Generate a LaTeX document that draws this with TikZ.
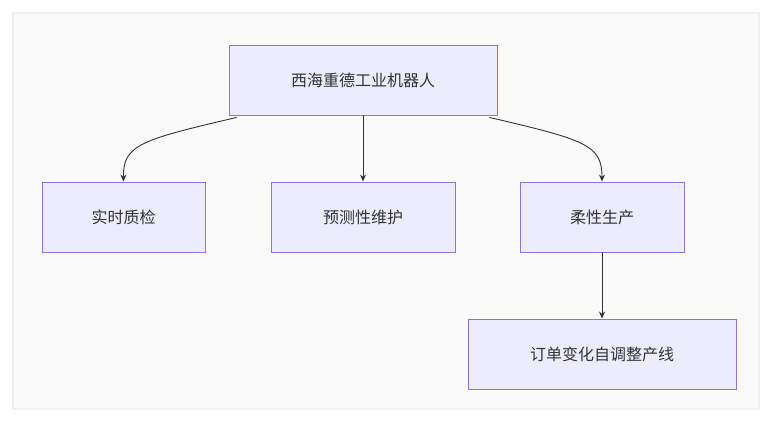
\documentclass[tikz,border=0pt]{standalone}
\usepackage{fontspec}
\newfontfamily\cjk{Noto Sans CJK SC}
\usetikzlibrary{arrows.meta}
\begin{document}
\begin{tikzpicture}[x=1pt,y=-1pt,
  box/.style={draw=mpurple,fill=mfill,line width=0.9pt,minimum height=70pt,font=\cjk\fontsize{16}{18}\selectfont,text=black!80,inner sep=0pt},
  arr/.style={draw=black!80,line width=0.9pt,-{Stealth[length=7pt,width=6pt]}}]
\definecolor{mpurple}{HTML}{9370DB}
\definecolor{mfill}{HTML}{ECECFF}
\useasboundingbox (0,0) rectangle (772,422);
\fill[black!6] (12,12) rectangle (760,410);
\fill[black!2] (14,14) rectangle (758,408);
\node[box,minimum width=268pt] (a) at (363,80) {西海重德工业机器人};
\node[box,minimum width=163pt] (b) at (123.5,217) {实时质检};
\node[box,minimum width=184pt] (c) at (363,217) {预测性维护};
\node[box,minimum width=164pt] (d) at (602,217) {柔性生产};
\node[box,minimum width=268pt] (e) at (602,354) {订单变化自调整产线};
\draw[arr] (a.south west)++(8,2) .. controls (140,140) and (123,145) .. (b.north);
\draw[arr] (a.south) -- (c.north);
\draw[arr] (a.south east)++(-8,2) .. controls (586,140) and (602,145) .. (d.north);
\draw[arr] (d.south) -- (e.north);
\end{tikzpicture}
\end{document}
